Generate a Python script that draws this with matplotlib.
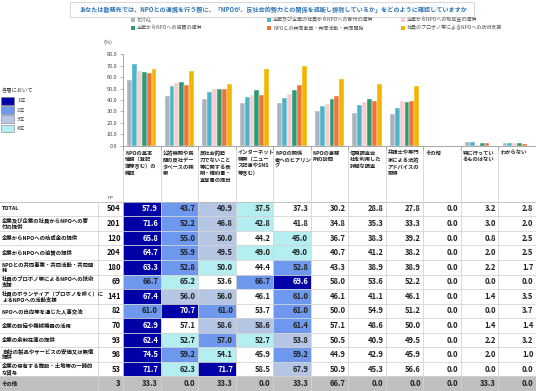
import matplotlib
matplotlib.use("Agg")
import matplotlib.pyplot as plt
from matplotlib.patches import Rectangle
import numpy as np

plt.rcParams['font.family'] = ['Noto Sans CJK JP', 'DejaVu Sans']

title = "あなたは勤務先では、NPOとの連携を行う際に、「NPOが、反社会的勢力との関係を遮断し排除しているか」をどのように確認していますか"

columns = [
    "NPOの基本\n情報（登記\n簿等含む）の\n確認",
    "公的機関や民\n間の反社デー\nタベースの検\n索",
    "反社会的勢\n力でないこと\n等に関する表\n明・確約書・\n宣誓書の提出",
    "インターネット\n検索（ニュー\nス記事やSNS\n等含む）",
    "NPOの関係\n者へのヒアリン\nグ",
    "NPOの事務\n所の訪問",
    "信用調査会\n社を利用した\n詳細な調査",
    "弁護士や専門\n家による法的\nアドバイスの\n取得",
    "その他",
    "特に行ってい\nるものはない",
    "わからない",
]

row_labels = [
    "TOTAL",
    "企業及び企業の社員からNPOへの寄\n付の提供",
    "企業からNPOへの助成金の提供",
    "企業からNPOへの協賛の提供",
    "NPOとの共同事業・共同活動・共同開\n発",
    "社員のプロボノ等によるNPOへの技術\n支援",
    "社員のボランティア（プロボノを除く）に\nよるNPOへの活動支援",
    "NPOへの出向等を通じた人事交流",
    "企業の設備や機械機器の活用",
    "企業の余剰在庫の提供",
    "自社の製品やサービスの安価又は無償\n提供",
    "企業の保有する施設・土地等の一時的\nな貸与",
    "その他",
]

n_values = [504, 201, 120, 204, 180, 69, 141, 82, 70, 93, 98, 53, 3]

total      = [57.9, 43.7, 40.9, 37.5, 37.3, 30.2, 28.8, 27.8, 0.0, 3.2, 2.8]
donation   = [71.6, 52.2, 46.8, 42.8, 41.8, 34.8, 35.3, 33.3, 0.0, 3.0, 2.0]
grant      = [65.8, 55.0, 50.0, 44.2, 45.0, 36.7, 38.3, 39.2, 0.0, 0.8, 2.5]
sponsor    = [64.7, 55.9, 49.5, 49.0, 49.0, 40.7, 41.2, 38.2, 0.0, 2.0, 2.5]
joint      = [63.3, 52.8, 50.0, 44.4, 52.8, 43.3, 38.9, 38.9, 0.0, 2.2, 1.7]
probono    = [66.7, 65.2, 53.6, 66.7, 69.6, 58.0, 53.6, 52.2, 0.0, 0.0, 0.0]
volunteer  = [67.4, 56.0, 56.0, 46.1, 61.0, 46.1, 41.1, 46.1, 0.0, 1.4, 3.5]
secondment = [61.0, 70.7, 61.0, 53.7, 61.0, 50.0, 54.9, 51.2, 0.0, 0.0, 3.7]
equipment  = [62.9, 57.1, 58.6, 58.6, 61.4, 57.1, 48.6, 50.0, 0.0, 1.4, 1.4]
inventory  = [62.4, 52.7, 57.0, 52.7, 53.8, 50.5, 40.9, 49.5, 0.0, 2.2, 3.2]
products   = [74.5, 59.2, 54.1, 45.9, 59.2, 44.9, 42.9, 45.9, 0.0, 2.0, 1.0]
facilities = [71.7, 62.3, 71.7, 58.5, 67.9, 50.9, 45.3, 56.6, 0.0, 0.0, 0.0]
other      = [33.3, 0.0, 33.3, 0.0, 33.3, 66.7, 0.0, 0.0, 0.0, 33.3, 0.0]

table = [total, donation, grant, sponsor, joint, probono, volunteer,
         secondment, equipment, inventory, products, facilities, other]

bar_series = [total, donation, grant, sponsor, joint, probono]
bar_names = ["TOTAL",
             "企業及び企業の社員からNPOへの寄付の提供",
             "企業からNPOへの助成金の提供",
             "企業からNPOへの協賛の提供",
             "NPOとの共同事業・共同活動・共同開発",
             "社員のプロボノ等によるNPOへの技術支援"]
bar_colors = ["#A7B4BD", "#4BB4C8", "#F5CFCF", "#2E9A73", "#F07339", "#F2B500"]

rank_colors = ["#0000A6", "#6E98EE", "#B4C6E4", "#B4EEF0"]
rank_names = ["1位", "2位", "3位", "4位"]

W, H = 536, 391
fig = plt.figure(figsize=(W / 100, H / 100), dpi=100)

# overlay axes in pixel coordinates
ov = fig.add_axes([0, 0, 1, 1])
ov.set_xlim(0, W)
ov.set_ylim(H, 0)
ov.axis('off')

# --- bar chart ---
x_left, x_right = 123, 536
y_top, y_bot = 54.3, 145.7
ncol = len(columns)
bx = fig.add_axes([x_left / W, 1 - y_bot / H, (x_right - x_left) / W, (y_bot - y_top) / H])
x = np.arange(ncol)
bw = 0.13
for k, (s, c) in enumerate(zip(bar_series, bar_colors)):
    bx.bar(x + (k - 2.5) * bw, s, width=bw, color=c, edgecolor='white', linewidth=0.3, zorder=2)
bx.set_xlim(-0.5, ncol - 0.5)
bx.set_ylim(0, 80)
bx.set_yticks(np.arange(0, 81, 10))
bx.set_yticklabels([f"{v:.1f}" for v in np.arange(0, 81, 10)], fontsize=4.0, color='#444444')
bx.set_xticks(np.arange(-0.5, ncol, 1.0))
bx.set_xticklabels([])
bx.tick_params(axis='x', length=3, width=0.5, color='#999999', direction='out')
bx.tick_params(axis='y', length=2, width=0.5, color='#999999', pad=2)
for sp in ['top', 'right']:
    bx.spines[sp].set_visible(False)
for sp in ['left', 'bottom']:
    bx.spines[sp].set_color('#999999')
    bx.spines[sp].set_linewidth(0.6)
bx.patch.set_alpha(0)

ov.text(108, 42, "(%)", fontsize=4.0, color='#444444', ha='center', va='center')

# --- title box ---
ov.add_patch(Rectangle((70, 2), 404, 15, facecolor='white', edgecolor='#D0D0D0', linewidth=0.6))
ov.text(273, 9.5, title, fontsize=4.4, color='#2E74B5', ha='center', va='center', fontweight='bold')

# --- top legend ---
leg_x = [133, 269, 403]
leg_y = [20, 28]
for k, (name, c) in enumerate(zip(bar_names, bar_colors)):
    r, cc = divmod(k, 3)
    ov.add_patch(Rectangle((leg_x[cc] - 2, leg_y[r] - 2), 4, 4, facecolor=c, edgecolor='none'))
    ov.text(leg_x[cc] + 4, leg_y[r], name, fontsize=3.6, color='#555555', ha='left', va='center')

# --- left rank legend ---
ov.text(2, 91, "各層において", fontsize=3.8, color='#444444', ha='left', va='center')
for k, (nm, c) in enumerate(zip(rank_names, rank_colors)):
    yy = 97 + k * 9.2
    ov.add_patch(Rectangle((1, yy), 13, 7.5, facecolor=c, edgecolor='#808080', linewidth=0.4))
    ov.text(17, yy + 3.8, nm, fontsize=3.8, color='#444444', ha='left', va='center')

# --- table ---
cw = (x_right - x_left) / ncol
label_sep = 98.3
hdr_top = 147
tbl_top = 201.7
rh = (H - tbl_top) / len(row_labels)
grid_c = '#D4D4D4'

# header labels
for j, col in enumerate(columns):
    x0 = x_left + j * cw
    ov.text(x0 + 2, hdr_top + 3.5, col, fontsize=3.8, color='#222222', ha='left', va='top',
            linespacing=1.4, fontweight='bold')
    ov.plot([x0, x0], [hdr_top, H], color=grid_c, linewidth=0.6)
ov.text(107, 197.5, "n=", fontsize=3.8, color='#444444', ha='left', va='center')

for i, (lab, n, vals) in enumerate(zip(row_labels, n_values, table)):
    y0 = tbl_top + i * rh
    is_other = (i == len(row_labels) - 1)
    if is_other:
        ov.add_patch(Rectangle((0, y0), W, rh, facecolor='#C0C0C0', edgecolor='none', zorder=0.5))
    ov.plot([0, W], [y0, y0], color=grid_c if i > 0 else '#BBBBBB', linewidth=0.6, zorder=1)
    ov.text(2, y0 + rh / 2, lab, fontsize=3.85, color='#111111', ha='left', va='center',
            linespacing=1.2, fontweight='bold')
    ov.text(label_sep + 22.5, y0 + rh / 2, f"{n}", fontsize=5.5, color='#111111', ha='right',
            va='center', fontweight='bold')
    for j, v in enumerate(vals):
        x0 = x_left + j * cw
        rank = 1 + sum(1 for w in vals if w > v)
        txt_c = '#222222'
        if not is_other and rank <= 4 and v > 0:
            ov.add_patch(Rectangle((x0, y0), cw, rh, facecolor=rank_colors[rank - 1],
                                   edgecolor='none', zorder=0.8))
            if rank == 1:
                txt_c = 'white'
        ov.text(x0 + cw - 2.5, y0 + rh / 2, f"{v:.1f}", fontsize=5.5, color=txt_c, ha='right',
                va='center', fontweight='bold', zorder=3)
ov.plot([label_sep, label_sep], [tbl_top, H], color=grid_c, linewidth=0.6, zorder=1)
ov.plot([0, W], [H - 0.5, H - 0.5], color=grid_c, linewidth=0.6, zorder=1)

fig.savefig("out.png", dpi=100)
